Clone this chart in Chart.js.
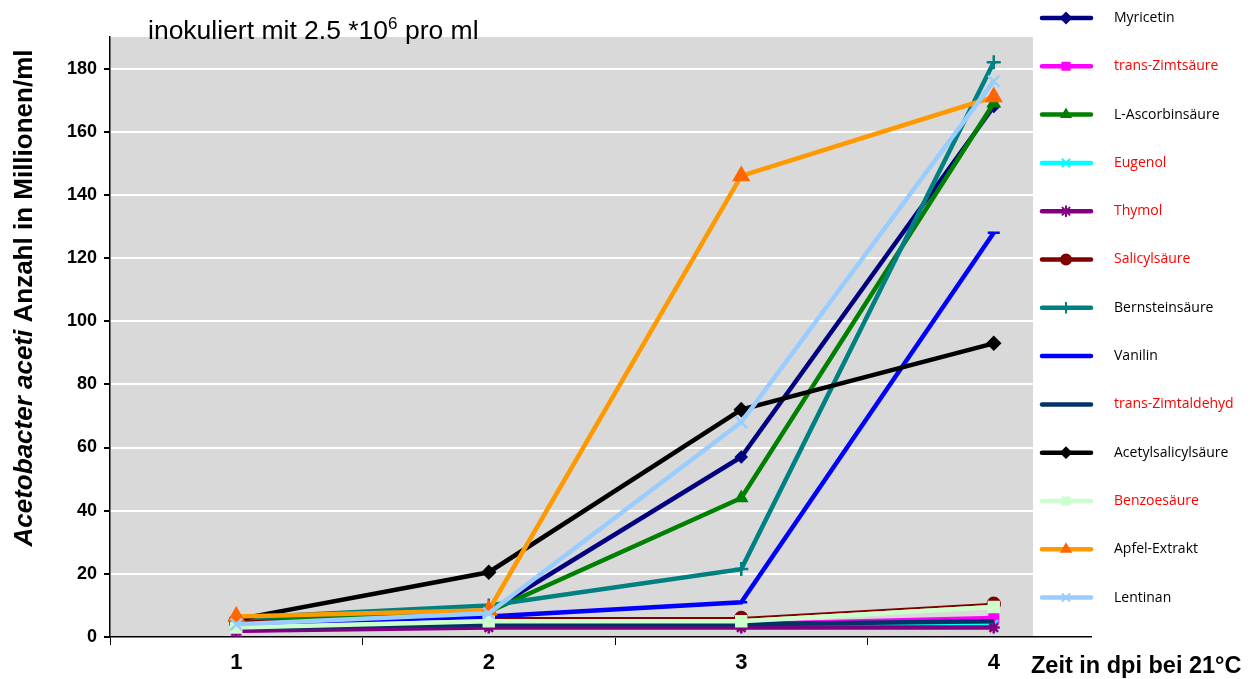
<!DOCTYPE html>
<html lang="de">
<head>
  <meta charset="UTF-8">
  <title>Acetobacter aceti Wachstum</title>
  <script src="https://cdn.jsdelivr.net/npm/chart.js"></script>
  <style>
    body { margin: 0; background: #fff; }
    #wrap { position: relative; width: 1255px; height: 679px; }
  </style>
</head>
<body>
  <div id="wrap"><canvas id="chart" width="1255" height="679"></canvas></div>

  <script>
    // Data
    const days = ['1', '2', '3', '4'];
    const names = ['Myricetin', 'trans-Zimtsäure', 'L-Ascorbinsäure', 'Eugenol', 'Thymol',
      'Salicylsäure', 'Bernsteinsäure', 'Vanilin', 'trans-Zimtaldehyd', 'Acetylsalicylsäure',
      'Benzoesäure', 'Apfel-Extrakt', 'Lentinan'];
    const myricetin = [4, 8, 57, 168];
    const zimtsaeure = [2, 4, 4, 6];
    const ascorbin = [5, 8, 44, 169];
    const eugenol = [3, 4, 4, 4];
    const thymol = [2, 3, 3, 3];
    const salicyl = [5, 6, 6, 10.5];
    const bernstein = [6, 10, 21.5, 182];
    const vanilin = [4, 6.5, 11, 128];
    const zimtaldehyd = [3, 4, 4, 5];
    const acetyl = [5.5, 20.5, 72, 93];
    const benzoe = [3, 5, 5, 9.5];
    const apfel = [6.5, 8.5, 146, 171];
    const lentinan = [4, 7.5, 68, 176];
    const yTicks = [0, 20, 40, 60, 80, 100, 120, 140, 160, 180];

    const seriesData = [myricetin, zimtsaeure, ascorbin, eugenol, thymol, salicyl, bernstein,
      vanilin, zimtaldehyd, acetyl, benzoe, apfel, lentinan];
    const lineColors = ['#000080', '#ff00ff', '#008000', '#00ffff', '#800080', '#800000', '#008080',
      '#0000ff', '#003366', '#000000', '#ccffcc', '#ff9900', '#99ccff'];
    const markerColors = ['#000080', '#ff00ff', '#008000', '#00ffff', '#800080', '#800000', '#008080',
      '#0000ff', '#003366', '#000000', '#ccffcc', '#ff6600', '#99ccff'];
    const markers = ['rectRot', 'rect', 'triangle', 'crossRot', 'star', 'circle', 'cross',
      'line', false, 'rectRot', 'rect', 'triangle', 'crossRot'];
    const markerSizes = [5, 6, 6, 6, 6, 6, 7, 6, 0, 6, 7, 8, 8];
    const lineWidths = [4.5, 4.5, 4.5, 4.5, 4.5, 2, 4.5, 4.5, 4.5, 4.5, 4.5, 4.5, 4.5];
    const redLabels = ['trans-Zimtsäure', 'Eugenol', 'Thymol', 'Salicylsäure', 'trans-Zimtaldehyd', 'Benzoesäure'];

    const datasets = names.map((n, i) => ({
      label: n,
      data: seriesData[i],
      borderColor: lineColors[i],
      backgroundColor: markerColors[i],
      pointBorderColor: markerColors[i],
      pointBackgroundColor: markerColors[i],
      borderWidth: lineWidths[i],
      pointStyle: markers[i],
      pointRadius: markerSizes[i],
      pointBorderWidth: 2.5,
      tension: 0,
      order: names.length - i
    }));

    const FONT = '"Liberation Sans", Arial, sans-serif';

    const decor = {
      id: 'decor',
      beforeDraw(chart) {
        const { ctx, chartArea: a } = chart;
        ctx.save();
        ctx.fillStyle = '#d9d9d9';
        ctx.fillRect(a.left, a.top, a.right - a.left, a.bottom - a.top);
        ctx.restore();
      },
      afterDraw(chart) {
        const { ctx } = chart;
        ctx.save();
        // legend panel covering the right part of the plot
        ctx.fillStyle = '#fff';
        ctx.fillRect(1033, 0, 222, 636);
        ctx.fillRect(1092, 636, 163, 12);
        names.forEach((n, i) => {
          const y = 18 + i * 48.3;
          ctx.strokeStyle = lineColors[i];
          ctx.lineWidth = 4.5;
          ctx.lineCap = 'round';
          ctx.beginPath();
          ctx.moveTo(1042, y);
          ctx.lineTo(1091, y);
          ctx.stroke();
          if (markers[i]) {
            ctx.fillStyle = markerColors[i];
            ctx.strokeStyle = markerColors[i];
            ctx.lineWidth = 2;
            Chart.helpers.drawPoint(ctx, { pointStyle: markers[i], radius: Math.min(markerSizes[i], 5), rotation: 0, borderWidth: 2 }, 1066, y);
          }
          ctx.fillStyle = redLabels.includes(n) ? '#ff0000' : '#000000';
          ctx.font = '14px "Open Sans", "Liberation Sans", sans-serif';
          ctx.textBaseline = 'middle';
          ctx.textAlign = 'left';
          ctx.fillText(n, 1114, y);
        });

        // title with superscript
        ctx.fillStyle = '#000';
        ctx.textBaseline = 'alphabetic';
        ctx.textAlign = 'left';
        ctx.font = '26.5px ' + FONT;
        let x = 148;
        const t1 = 'inokuliert mit 2.5 *10';
        ctx.fillText(t1, x, 39);
        x += ctx.measureText(t1).width;
        ctx.font = '17px ' + FONT;
        ctx.fillText('6', x, 29);
        x += ctx.measureText('6').width;
        ctx.font = '26.5px ' + FONT;
        ctx.fillText(' pro ml', x, 39);

        // x axis title
        ctx.font = 'bold 23.5px ' + FONT;
        ctx.fillText('Zeit in dpi bei 21°C', 1031, 673);

        // y axis title: mixed italic / normal
        ctx.translate(25, 298);
        ctx.rotate(-Math.PI / 2);
        const p1 = 'Acetobacter aceti';
        const p2 = ' Anzahl in Millionen/ml';
        ctx.font = 'italic bold 26px ' + FONT;
        const w1 = ctx.measureText(p1).width;
        ctx.font = 'bold 26px ' + FONT;
        const w2 = ctx.measureText(p2).width;
        const sx = -(w1 + w2) / 2;
        ctx.textBaseline = 'middle';
        ctx.font = 'italic bold 26px ' + FONT;
        ctx.fillText(p1, sx, 0);
        ctx.font = 'bold 26px ' + FONT;
        ctx.fillText(p2, sx + w1, 0);
        ctx.restore();
      }
    };

    new Chart(document.getElementById('chart'), {
      type: 'line',
      data: { labels: days, datasets: datasets },
      options: {
        responsive: false,
        animation: false,
        layout: { padding: { top: 37, right: 135, left: 0, bottom: 0 } },
        plugins: { legend: { display: false }, tooltip: { enabled: false } },
        scales: {
          x: {
            offset: true,
            afterFit(scale) { scale.height = 42; },
            grid: { offset: true, drawOnChartArea: false, tickLength: 8, tickColor: '#000', lineWidth: 1 },
            border: { color: '#000', width: 1.5 },
            ticks: { color: '#000', font: { family: FONT, size: 22, weight: 'bold' }, padding: 5 }
          },
          y: {
            min: 0,
            max: 190,
            afterFit(scale) { scale.width = 110; },
            afterBuildTicks(scale) { scale.ticks = yTicks.map(v => ({ value: v })); },
            grid: { color: '#ffffff', lineWidth: 2, tickLength: 6, tickColor: '#000' },
            border: { color: '#000', width: 1.5 },
            ticks: { color: '#000', font: { family: FONT, size: 18, weight: 'bold' }, padding: 7 }
          }
        }
      },
      plugins: [decor]
    });
  </script>
</body>
</html>
